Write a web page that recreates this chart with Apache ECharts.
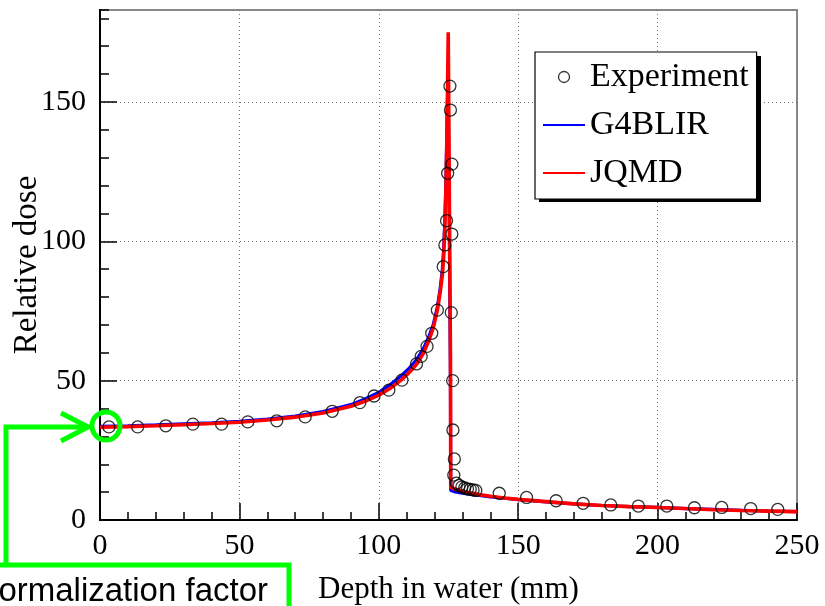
<!DOCTYPE html>
<html>
<head>
<meta charset="utf-8">
<script src="https://cdn.jsdelivr.net/npm/echarts@6/dist/echarts.min.js"></script>
<style>
  html, body { margin: 0; padding: 0; background: #fff; }
  #chart { width: 825px; height: 606px; }
</style>
</head>
<body>
<div id="chart"></div>
<script>
// ---- Data ----
const seriesNames = ['Experiment', 'G4BLIR', 'JQMD'];
const xTickLabels = ['0', '50', '100', '150', '200', '250'];
const yTickLabels = ['0', '50', '100', '150'];

const depthExp = [3.2, 13.5, 23.6, 33.3, 43.6, 53.0, 63.4, 73.6, 83.3, 93.2, 98.3, 103.6, 108.3, 113.5, 115.2, 117.3, 119.0, 121.0, 123.1, 123.7, 124.3, 124.7, 125.5, 125.7, 126.2, 126.2, 126.0, 126.5, 126.6, 127.1, 126.9,
  127.8, 128.8, 129.8, 130.8, 131.8, 132.8, 133.8, 134.8,
  143.2, 153.0, 163.6, 173.3, 183.2, 193.1, 203.3, 213.2, 223.0, 233.4, 243.1];
const doseExp = [33.4, 33.4, 33.8, 34.4, 34.4, 35.2, 35.6, 37.0, 39.0, 42.1, 44.5, 46.6, 50.2, 56.0, 58.7, 62.3, 67.0, 75.3, 90.9, 98.7, 107.4, 124.4, 155.7, 147.1, 127.7, 102.6, 74.4, 50.0, 32.3, 21.9, 16.1,
  13.2, 12.4, 11.9, 11.5, 11.2, 11.0, 10.8, 10.6,
  9.6, 8.1, 6.9, 6.0, 5.4, 5.0, 5.0, 4.4, 4.5, 4.1, 3.8];

const depthG4 = [0, 10, 20, 30, 40, 50, 60, 70, 80, 90, 95, 100, 104, 108, 111, 113.5, 116, 118, 119.5, 121, 122, 122.8, 123.3, 123.7, 124.0, 124.3, 124.6, 124.9, 125.6, 125.7, 125.8, 127, 130, 133, 136, 140, 145, 150, 160, 170, 180, 190, 200, 210, 220, 230, 240, 250];
const doseG4 = [33.6, 33.8, 34.1, 34.5, 34.9, 35.4, 36.2, 37.3, 38.9, 41.4, 43.4, 45.8, 48.5, 51.7, 54.6, 57.5, 61.5, 66.0, 70.0, 76.5, 83.0, 90.0, 98.0, 108.0, 119.0, 133.0, 150.0, 158.0, 158.0, 50.0, 10.6, 10.2, 9.6, 9.2, 8.8, 8.3, 7.8, 7.3, 6.5, 5.8, 5.2, 4.8, 4.5, 4.1, 3.8, 3.5, 3.2, 3.0];

const depthJQ = [0, 10, 20, 30, 40, 50, 60, 70, 80, 90, 95, 100, 104, 108, 111, 113.5, 116, 118, 119.5, 121, 122, 122.8, 123.3, 123.7, 124.0, 124.3, 124.6, 124.9, 125.6, 125.7, 125.8, 127, 130, 133, 136, 140, 145, 150, 160, 170, 180, 190, 200, 210, 220, 230, 240, 250];
const doseJQ = [33.3, 33.5, 33.8, 34.2, 34.6, 35.1, 35.9, 36.9, 38.4, 40.8, 42.6, 44.8, 47.2, 50.2, 53.0, 55.8, 59.8, 64.5, 68.8, 75.3, 81.5, 88.0, 95.0, 105.0, 115.0, 130.0, 150.0, 175.0, 175.0, 60.0, 11.8, 11.2, 10.3, 9.7, 9.1, 8.5, 7.9, 7.4, 6.6, 5.8, 5.2, 4.8, 4.5, 4.1, 3.7, 3.4, 3.2, 3.0];

const pairs = (xs, ys) => xs.map((x, i) => [x, ys[i]]);

const SERIF = 'Liberation Serif';
const chart = echarts.init(document.getElementById('chart'), null, { renderer: 'canvas' });

const option = {
  backgroundColor: '#ffffff',
  animation: false,
  grid: { left: 100, right: 28, top: 10, bottom: 86, containLabel: false, outerBoundsMode: 'none',
    show: true, borderColor: '#8a8a8a', borderWidth: 2, backgroundColor: 'transparent' },
  legend: {
    orient: 'vertical', left: 535, top: 52,
    padding: [8, 8, 9, 7], itemGap: 14, itemWidth: 42, itemHeight: 11,
    backgroundColor: '#fff', borderColor: '#000', borderWidth: 1.2,
    textStyle: { fontFamily: SERIF, fontSize: 34, color: '#000' },
    data: [
      { name: seriesNames[0], icon: 'circle', itemStyle: { color: 'transparent', borderColor: '#000', borderWidth: 1.3 } },
      { name: seriesNames[1], itemStyle: { color: 'transparent', borderColor: 'transparent', borderWidth: 0 } },
      { name: seriesNames[2], itemStyle: { color: 'transparent', borderColor: 'transparent', borderWidth: 0 } }
    ]
  },
  xAxis: {
    type: 'value', min: 0, max: 250, interval: 50,
    name: 'Depth in water (mm)', nameLocation: 'middle', nameGap: 54, nameMoveOverlap: false,
    nameTextStyle: { fontFamily: SERIF, fontSize: 31, color: '#000' },
    axisLine: { show: true, onZero: false, lineStyle: { color: '#000', width: 2 } },
    axisTick: { show: true, inside: true, length: 17, lineStyle: { color: '#000', width: 1.5 } },
    minorTick: { show: true, splitNumber: 5, length: 8, lineStyle: { color: '#000', width: 1.5 } },
    axisLabel: { fontFamily: SERIF, fontSize: 30, color: '#000', margin: 11,
      formatter: v => xTickLabels.includes(String(v)) ? String(v) : '' },
    splitLine: { show: true, lineStyle: { color: '#777', width: 1, type: [1, 3] } }
  },
  yAxis: [
    {
      type: 'value', min: 0, max: 183, interval: 10, position: 'left', offset: 0,
      axisLine: { show: true, onZero: false, lineStyle: { color: '#000', width: 2 } },
      axisTick: { show: true, inside: true, length: 9, lineStyle: { color: '#000', width: 1.5 } },
      axisLabel: { show: false },
      splitLine: { show: false }
    },
    {
      type: 'value', min: 0, max: 183, interval: 50, position: 'left', offset: 0,
      name: 'Relative dose', nameLocation: 'middle', nameGap: 56, nameRotate: 90, nameMoveOverlap: false,
      nameTextStyle: { fontFamily: SERIF, fontSize: 33, color: '#000' },
      axisLine: { show: true, onZero: false, lineStyle: { color: '#000', width: 2 } },
      axisTick: { show: true, inside: true, length: 17, lineStyle: { color: '#000', width: 1.5 } },
      axisLabel: { fontFamily: SERIF, fontSize: 30, color: '#000', margin: 14, showMaxLabel: false,
        formatter: v => yTickLabels.includes(String(v)) ? String(v) : '' },
      splitLine: { show: true, lineStyle: { color: '#777', width: 1, type: [1, 3] } }
    }
  ],
  series: [
    {
      name: seriesNames[1], type: 'line', yAxisIndex: 0, data: pairs(depthG4, doseG4),
      symbol: 'none', lineStyle: { color: '#0000ff', width: 3.2 }, itemStyle: { color: '#0000ff' }, z: 2
    },
    {
      name: seriesNames[2], type: 'line', yAxisIndex: 0, data: pairs(depthJQ, doseJQ),
      symbol: 'none', lineStyle: { color: '#ff0000', width: 3.6 }, itemStyle: { color: '#ff0000' }, z: 3
    },
    {
      name: seriesNames[0], type: 'scatter', yAxisIndex: 0, data: pairs(depthExp, doseExp),
      symbol: 'circle', symbolSize: 12,
      itemStyle: { color: 'transparent', borderColor: '#000', borderWidth: 1.3 }, z: 4
    }
  ],
  graphic: [
    { type: 'rect', shape: { x: 539, y: 56, width: 222, height: 146 }, style: { fill: '#000' }, z: 1 },
    { type: 'circle', shape: { cx: 106, cy: 426, r: 14 }, style: { fill: 'none', stroke: '#00ff00', lineWidth: 5 }, z: 100 },
    { type: 'polyline', shape: { points: [[289, 606], [289, 565], [0, 565]] }, style: { fill: 'none', stroke: '#00ff00', lineWidth: 5 }, z: 100 },
    { type: 'polyline', shape: { points: [[6, 565], [6, 427], [88, 427]] }, style: { fill: 'none', stroke: '#00ff00', lineWidth: 5 }, z: 100 },
    { type: 'polyline', shape: { points: [[61, 413], [88, 427], [61, 441]] }, style: { fill: 'none', stroke: '#00ff00', lineWidth: 5 }, z: 100 },
    { type: 'text', x: 268, y: 608, style: { text: 'Normalization factor', fill: '#000', font: '33px "Liberation Sans"', textAlign: 'right', textVerticalAlign: 'bottom' }, z: 100 }
  ]
};
chart.setOption(option);
</script>
</body>
</html>
